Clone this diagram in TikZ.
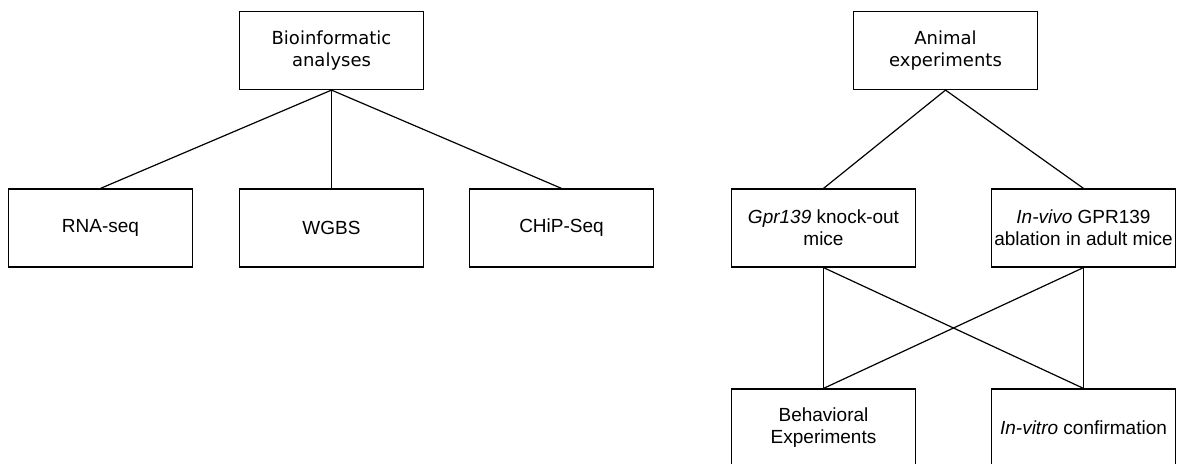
\documentclass[tikz,border=0pt]{standalone}
\usepackage{fontspec}
\setmainfont{Liberation Sans}
\newfontfamily\dvs{DejaVu Sans}
\begin{document}
\begin{tikzpicture}[x=1pt,y=-1pt,
  box/.style={draw=black,line width=1.2pt,fill=white,minimum width=184pt,minimum height=78pt,inner sep=0pt,align=center,font=\fontsize{19}{22}\selectfont},
  topbox/.style={box,font=\dvs\fontsize{18}{22}\selectfont},
  link/.style={draw=black,line width=1.2pt}]
\useasboundingbox (0,0) rectangle (1177,463);
\clip (0,0) rectangle (1177,463);
\node[topbox] (bio) at (331.5,50.5) {Bioinformatic\\analyses};
\node[box] (rna) at (100.5,228) {RNA-seq};
\node[box] (wgbs) at (331.5,228) {WGBS};
\node[box] (chip) at (561.5,228) {CHiP-Seq};
\node[topbox] (animal) at (945.5,50.5) {Animal\\experiments};
\node[box] (gpr) at (823.5,228) {\textit{Gpr139} knock-out\\mice};
\node[box] (invivo) at (1083.5,228) {\textit{In-vivo} GPR139\\ablation in adult mice};
\node[box] (behav) at (823.5,428) {Behavioral\\Experiments};
\node[box] (invitro) at (1083.5,428) {\textit{In-vitro} confirmation};
\draw[link] (bio.south) -- (rna.north);
\draw[link] (bio.south) -- (wgbs.north);
\draw[link] (bio.south) -- (chip.north);
\draw[link] (animal.south) -- (gpr.north);
\draw[link] (animal.south) -- (invivo.north);
\draw[link] (gpr.south) -- (behav.north);
\draw[link] (gpr.south) -- (invitro.north);
\draw[link] (invivo.south) -- (invitro.north);
\draw[link] (invivo.south) -- (behav.north);
\end{tikzpicture}
\end{document}
